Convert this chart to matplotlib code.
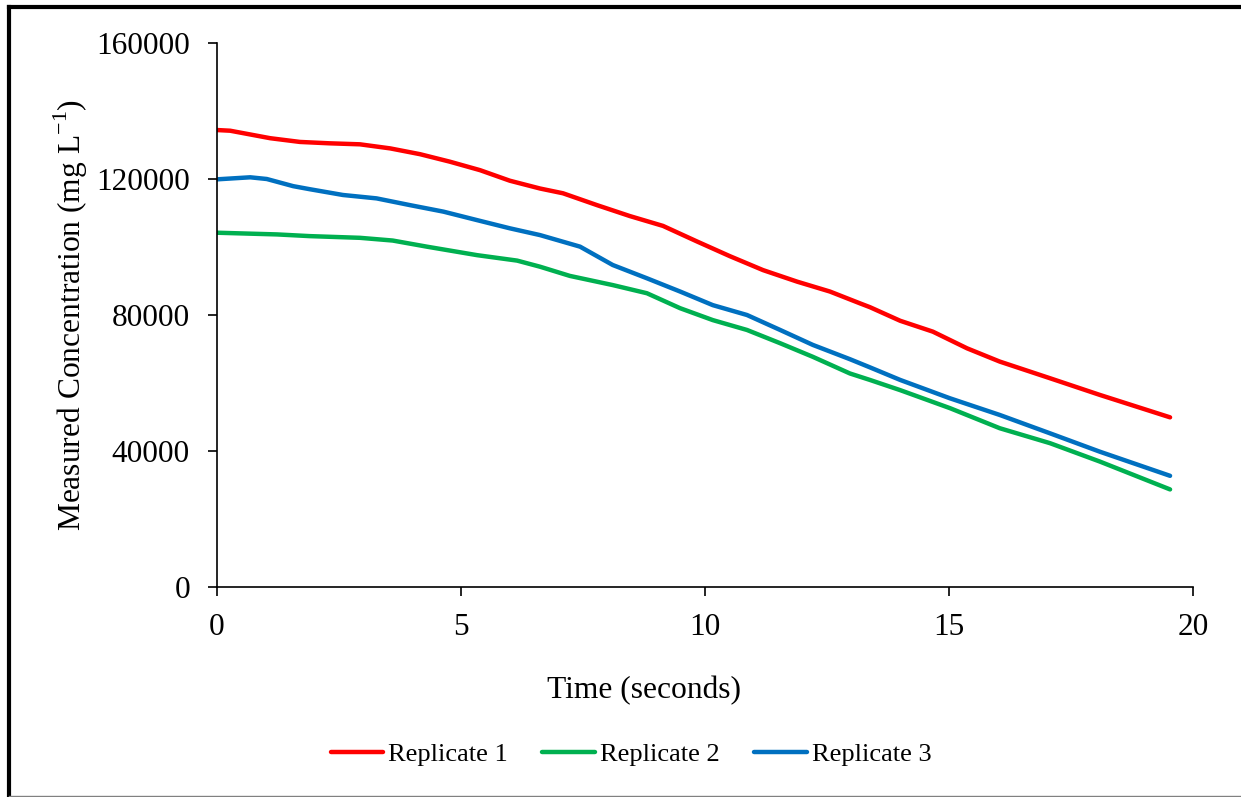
import matplotlib.pyplot as plt
from matplotlib.lines import Line2D

# values
t_rep1 = [0, 0.27, 0.68, 1.09, 1.7, 2.3, 2.93, 3.55, 4.16, 4.77, 5.39, 6.0, 6.62,
          7.09, 7.79, 8.46, 9.14, 9.84, 10.51, 11.19, 11.89, 12.56, 13.18, 13.38,
          14.0, 14.67, 15.37, 16.04, 17.07, 18.09, 19.53]
rep1 = [134400, 134200, 133100, 132000, 130900, 130500, 130200, 129000, 127300,
        125100, 122600, 119500, 117200, 115800, 112300, 109100, 106200, 101600,
        97300, 93200, 89800, 86900, 83400, 82300, 78300, 75100, 70200, 66300,
        61400, 56500, 49900]

t_rep2 = [0, 1.23, 1.9, 2.93, 3.6, 4.3, 5.33, 6.15, 6.62, 7.23, 8.11, 8.81, 9.49,
          10.16, 10.86, 11.54, 12.21, 12.97, 13.38, 14.0, 15.02, 16.04, 17.07,
          18.09, 19.53]
rep2 = [104200, 103700, 103200, 102700, 101900, 100100, 97600, 96000, 94200,
        91500, 88800, 86400, 82000, 78500, 75600, 71700, 67700, 62800, 60900,
        57900, 52600, 46700, 42300, 36900, 28700]

t_rep3 = [0, 0.68, 1.02, 1.56, 1.9, 2.58, 3.27, 3.96, 4.64, 5.33, 6.0, 6.62, 7.44,
          8.11, 8.81, 9.49, 10.16, 10.86, 11.54, 12.21, 12.97, 13.38, 14.0, 15.02,
          16.04, 17.07, 18.09, 19.53]
rep3 = [119900, 120500, 120000, 117900, 117000, 115300, 114300, 112300, 110400,
        107900, 105500, 103500, 100100, 94700, 90800, 86900, 82900, 80000, 75600,
        71200, 67000, 64600, 60900, 55500, 50600, 45200, 39800, 32700]

labels = ["Replicate 1", "Replicate 2", "Replicate 3"]
colors = ["#FF0000", "#00B050", "#0070C0"]

plt.rcParams['font.family'] = ['Liberation Serif', 'DejaVu Serif']
plt.rcParams['mathtext.fontset'] = 'custom'
plt.rcParams['mathtext.rm'] = 'Liberation Serif'

fig = plt.figure(figsize=(12.41, 7.97), dpi=100)
ax = fig.add_axes([217/1241, 1 - 587/797, 976/1241, 544/797])

for t, v, lab, c in zip([t_rep1, t_rep2, t_rep3], [rep1, rep2, rep3], labels, colors):
    ax.plot(t, v, color=c, lw=3.2, label=lab, solid_capstyle='round')

ax.set_xlim(0, 20)
ax.set_ylim(0, 160000)
ax.set_xticks([0, 5, 10, 15, 20])
ax.set_yticks([0, 40000, 80000, 120000, 160000])
ax.spines['top'].set_visible(False)
ax.spines['right'].set_visible(False)
for s in ['left', 'bottom']:
    ax.spines[s].set_linewidth(1.2)
ax.tick_params(direction='out', length=6.5, width=1.2, labelsize=22.5)
ax.tick_params(axis='x', pad=12)
ax.tick_params(axis='y', pad=13)

ax.set_xlabel("Time (seconds)", fontsize=22.7)
ax.xaxis.set_label_coords((644 - 217) / 976, -0.163)
ax.set_ylabel("Measured Concentration (mg L$^{\\mathregular{-1}}$)", fontsize=22.7)
ax.yaxis.set_label_coords(-0.13, 0.5)

ax.legend(loc='center', bbox_to_anchor=(631/1241, 1 - 754/797),
          bbox_transform=fig.transFigure, ncol=3, frameon=False, fontsize=19,
          handlelength=2.0, handletextpad=0.19, columnspacing=1.29)

# outer frame: thick black top/left, thin grey bottom
fig.add_artist(Line2D([9/1241, 1], [1 - 7/797, 1 - 7/797], color='black', lw=3,
                      transform=fig.transFigure))
fig.add_artist(Line2D([9/1241, 9/1241], [1 - 7/797, 0], color='black', lw=3,
                      transform=fig.transFigure))
fig.add_artist(Line2D([9/1241, 1], [1/797, 1/797], color='#808080', lw=1,
                      transform=fig.transFigure))

fig.savefig("out.png", dpi=100)
